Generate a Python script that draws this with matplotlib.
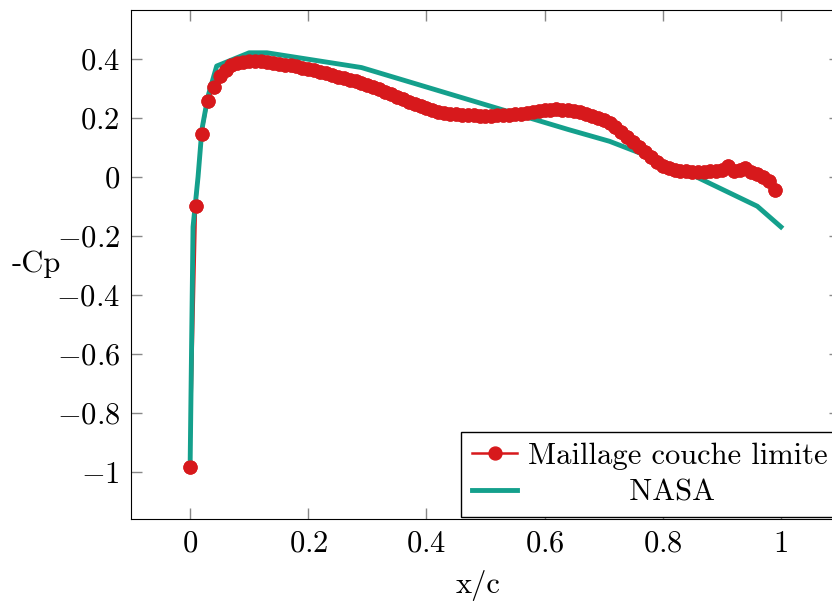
import matplotlib
matplotlib.use("Agg")
import matplotlib.pyplot as plt
from matplotlib.ticker import FuncFormatter

plt.rcParams["font.family"] = "cmr10"
plt.rcParams["mathtext.fontset"] = "cm"
plt.rcParams["axes.formatter.use_mathtext"] = True
plt.rcParams["font.size"] = 22

#### Donnees ####

x_maillage = [0.00, 0.01, 0.02, 0.03, 0.04, 0.05, 0.06, 0.07, 0.08, 0.09,
              0.10, 0.11, 0.12, 0.13, 0.14, 0.15, 0.16, 0.17, 0.18, 0.19,
              0.20, 0.21, 0.22, 0.23, 0.24, 0.25, 0.26, 0.27, 0.28, 0.29,
              0.30, 0.31, 0.32, 0.33, 0.34, 0.35, 0.36, 0.37, 0.38, 0.39,
              0.40, 0.41, 0.42, 0.43, 0.44, 0.45, 0.46, 0.47, 0.48, 0.49,
              0.50, 0.51, 0.52, 0.53, 0.54, 0.55, 0.56, 0.57, 0.58, 0.59,
              0.60, 0.61, 0.62, 0.63, 0.64, 0.65, 0.66, 0.67, 0.68, 0.69,
              0.70, 0.71, 0.72, 0.73, 0.74, 0.75, 0.76, 0.77, 0.78, 0.79,
              0.80, 0.81, 0.82, 0.83, 0.84, 0.85, 0.86, 0.87, 0.88, 0.89,
              0.90, 0.91, 0.92, 0.93, 0.94, 0.95, 0.96, 0.97, 0.98, 0.99]
cp_maillage = [-0.985, -0.098, 0.146, 0.255, 0.304, 0.340, 0.363, 0.378, 0.386, 0.390,
               0.392, 0.393, 0.392, 0.389, 0.384, 0.381, 0.379, 0.377, 0.374, 0.370,
               0.366, 0.362, 0.356, 0.350, 0.344, 0.339, 0.334, 0.329, 0.324, 0.319,
               0.312, 0.304, 0.296, 0.288, 0.279, 0.270, 0.262, 0.254, 0.246, 0.239,
               0.232, 0.226, 0.221, 0.217, 0.213, 0.211, 0.210, 0.209, 0.208, 0.207,
               0.207, 0.207, 0.208, 0.209, 0.210, 0.212, 0.214, 0.217, 0.220, 0.223,
               0.225, 0.227, 0.228, 0.227, 0.225, 0.222, 0.218, 0.213, 0.207, 0.200,
               0.191, 0.181, 0.167, 0.152, 0.134, 0.117, 0.101, 0.085, 0.068, 0.050,
               0.036, 0.028, 0.023, 0.020, 0.018, 0.017, 0.017, 0.017, 0.018, 0.019,
               0.024, 0.036, 0.020, 0.022, 0.029, 0.016, 0.008, -0.002, -0.016, -0.044]

x_nasa = [0.0, 0.005, 0.0135, 0.02, 0.03, 0.045, 0.10, 0.13, 0.29, 0.64, 0.71, 0.82, 0.96, 1.0]
cp_nasa = [-0.99, -0.17, 0.0, 0.16, 0.27, 0.375, 0.42, 0.42, 0.37, 0.16, 0.12, 0.035, -0.10, -0.17]

y_ticks = [-1, -0.8, -0.6, -0.4, -0.2, 0, 0.2, 0.4]
x_ticks = [0, 0.2, 0.4, 0.6, 0.8, 1]

rouge = "#d7191c"
vert = "#14a08c"

#### Graphique ####

fig = plt.figure(figsize=(8.32, 6.04), dpi=100)
ax = fig.add_axes([131 / 832, 85 / 604, 709 / 832, 509 / 604])

ax.plot(x_maillage, cp_maillage, color=rouge, lw=1.8, marker="o", ms=9.3,
        label="Maillage couche limite", zorder=2)
ax.plot(x_nasa, cp_nasa, color=vert, lw=3.5, label="          NASA", zorder=3)
ax.plot(x_maillage, cp_maillage, ls="none", color=rouge, marker="o", ms=9.3, zorder=4)

ax.set_xlim(-0.1, 1.1)
ax.set_ylim(-1.16, 0.565)
ax.set_xticks(x_ticks)
ax.set_yticks(y_ticks)
fmt = FuncFormatter(lambda v, p: "$%g$" % round(v, 2))
ax.xaxis.set_major_formatter(fmt)
ax.yaxis.set_major_formatter(fmt)
ax.tick_params(direction="in", length=8, width=1, color="#888888",
               top=True, right=True, pad=8)

ax.set_xlabel("x/c", va="center")
ax.xaxis.set_label_coords(0.4893, -0.13)
ax.set_ylabel("-Cp", rotation=0, ha="center", va="center")
ax.yaxis.set_label_coords(-0.133, 0.5)

leg = ax.legend(loc="lower right", bbox_to_anchor=(1, 0), borderaxespad=0.05,
                fancybox=False, edgecolor="black", framealpha=1,
                handlelength=1.5, handletextpad=0.35, labelspacing=0.3,
                borderpad=0.35)
leg.get_frame().set_linewidth(1)

plt.savefig("out.png")
plt.close()
